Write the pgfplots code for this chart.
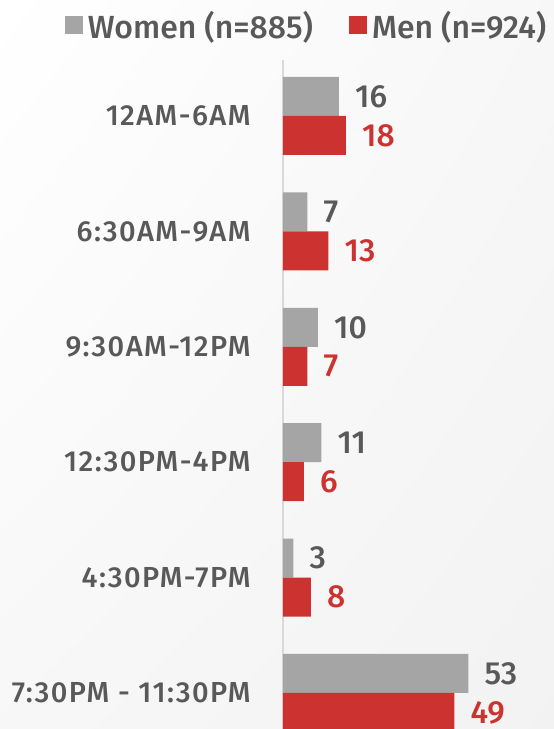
\documentclass[border=0pt]{standalone}
\usepackage{fontspec}
\setmainfont{Fira Sans}[UprightFont=* Medium]
\usepackage{pgfplots}
\pgfplotsset{compat=1.18}
\usetikzlibrary{shadings}
\definecolor{wgray}{HTML}{A5A5A5}
\definecolor{mred}{HTML}{CC3330}
\definecolor{txt}{HTML}{595959}
\definecolor{axline}{HTML}{D9D9D9}

\begin{document}
\begin{tikzpicture}
% page background, light grey toward bottom right
\shade[upper left=white, upper right=white!97!black,
       lower left=white!97!black, lower right=white!95!black]
  (-283pt,0pt) rectangle (271pt,729pt);
\begin{axis}[
    at={(0pt,0pt)}, anchor=south west,
    width=271pt, height=669pt, scale only axis,
    xbar, bar width=39pt,
    xmin=0, xmax=77.5,
    ymin=-0.312, ymax=5.485,
    ytick={0,1,2,3,4,5},
    yticklabels={7:30PM - 11:30PM, 4:30PM-7PM, 12:30PM-4PM, 9:30AM-12PM, 6:30AM-9AM, 12AM-6AM},
    yticklabel style={font=\fontsize{29}{32}\selectfont\addfontfeatures{LetterSpace=5}, text=txt, anchor=east, inner sep=0pt, xshift=-28pt},
    ytick style={draw=none},
    xtick=\empty,
    axis x line=none,
    axis y line*=left,
    y axis line style={draw=axline, line width=2pt},
    clip=false,
    /pgf/number format/assume math mode=true,
    nodes near coords,
    every node near coord/.append style={font=\fontsize{32}{35}\selectfont, anchor=west, inner sep=0pt, xshift=16pt},
    legend columns=2,
    legend style={draw=none, fill=none, at={(rel axis cs:0.087,1.052)}, anchor=center,
        font=\fontsize{32}{35}\selectfont, text=txt,
        /tikz/every odd column/.append style={column sep=3pt},
        /tikz/every even column/.append style={column sep=34pt}},
    legend image code/.code={\fill[#1] (0pt,-9pt) rectangle (18pt,9pt);},
]
\addplot[fill=wgray, draw=none, bar shift=19.5pt,
    every node near coord/.append style={text=txt}] coordinates {
    (16,5) (7,4) (10,3) (11,2) (3,1) (53,0)
};
\addlegendentry{Women (n=885)}
\addplot[fill=mred, draw=none, bar shift=-19.5pt,
    every node near coord/.append style={text=mred}] coordinates {
    (18,5) (13,4) (7,3) (6,2) (8,1) (49,0)
};
\addlegendentry{Men (n=924)}
\end{axis}
\pgfresetboundingbox
\path (-283pt,0pt) rectangle (271pt,729pt);
\end{tikzpicture}
\end{document}
